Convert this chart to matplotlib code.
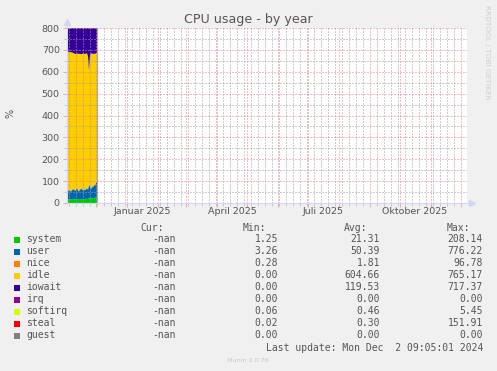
import numpy as np
import matplotlib
matplotlib.use("Agg")
import matplotlib.pyplot as plt
import matplotlib.dates as mdates
import matplotlib.transforms as mtransforms
from matplotlib.patches import Rectangle

# ---------------- data ----------------
dates = np.arange(np.datetime64("2024-11-02"), np.datetime64("2024-12-03"), np.timedelta64(1, "D"))

system = [17, 18, 16, 17, 18, 17, 19, 18, 17, 16, 18, 17, 19, 18, 17, 18,
          19, 17, 18, 20, 18, 19, 21, 22, 20, 21, 22, 23, 24, 25, 26]
user = [45, 37, 42, 43, 32, 48, 39, 50, 38, 44, 52, 41, 33, 48, 43, 54,
        36, 48, 40, 42, 52, 41, 64, 53, 42, 59, 48, 65, 54, 67, 70]
nice = [2] * 31
idle = [627, 633, 632, 627, 638, 621, 627, 614, 625, 619, 610, 623, 627, 614, 618, 607,
        626, 615, 621, 619, 612, 610, 518, 599, 619, 602, 609, 593, 602, 590, 588]
iowait = [108, 109, 107, 110, 109, 111, 112, 115, 117, 118, 117, 116, 118, 117, 119, 118,
          116, 117, 118, 116, 115, 127, 194, 123, 116, 115, 118, 116, 117, 115, 113]
irq = [0] * 31
softirq = [0.5] * 31
steal = [0.3] * 31
guest = [0] * 31

series_names = ["system", "user", "nice", "idle", "iowait", "irq", "softirq", "steal", "guest"]
series_colors = ["#00CC00", "#0066B3", "#FF8000", "#FFCC00", "#330099",
                 "#990099", "#CCFF00", "#FF0000", "#808080"]
cur_vals = ["-nan"] * 9
min_vals = ["1.25", "3.26", "0.28", "0.00", "0.00", "0.00", "0.06", "0.02", "0.00"]
avg_vals = ["21.31", "50.39", "1.81", "604.66", "119.53", "0.00", "0.46", "0.30", "0.00"]
max_vals = ["208.14", "776.22", "96.78", "765.17", "717.37", "0.00", "5.45", "151.91", "0.00"]

month_labels = ["Januar 2025", "April 2025", "Juli 2025", "Oktober 2025"]
month_label_dates = ["2025-01-16", "2025-04-16", "2025-07-16", "2025-10-16"]
x_start, x_end = "2024-11-02", "2025-12-07"
y_ticks = [0, 100, 200, 300, 400, 500, 600, 700, 800]

title = "CPU usage - by year"
last_update = "Last update: Mon Dec  2 09:05:01 2024"
munin_ver = "Munin 2.0.76"
side_text = "RRDTOOL / TOBI OETIKER"

# ---------------- figure ----------------
W, H = 497, 371
fig = plt.figure(figsize=(W / 100, H / 100), dpi=100, facecolor="#F0F0F0")

def fx(px):
    return px / W

def fy(py):
    return 1 - py / H

L, R, T, B = 67, 467, 28, 203
ax = fig.add_axes([fx(L), fy(B), (R - L) / W, (B - T) / H])
ax.set_facecolor("white")

FONT_COL = "#555555"
MGRID = (0.93, 0.5, 0.5, 0.65)
GRID = (0.62, 0.62, 0.62, 0.5)
AXIS_COL = "#CFD6F8"
DOT = (0, (1, 2))

ax.stackplot(dates, system, user, nice, idle, iowait, irq, softirq, steal, guest,
             colors=series_colors, linewidth=0, zorder=1)
ax.axvline(dates[-1], color="#b0b0b0", lw=0.8, zorder=1.5)

ax.set_xlim(np.datetime64(x_start), np.datetime64(x_end))
ax.set_ylim(0, 800)

ax.xaxis.set_major_locator(mdates.MonthLocator())
ax.xaxis.set_minor_locator(mdates.WeekdayLocator(byweekday=mdates.MO))
ax.set_yticks(y_ticks)
ax.set_yticks(np.arange(50, 800, 100), minor=True)
ax.set_yticklabels([str(v) for v in y_ticks])
ax.tick_params(axis="x", which="both", labelbottom=False)
ax.tick_params(axis="both", which="major", length=3, width=0.7, color=MGRID, direction="out")
ax.tick_params(axis="both", which="minor", length=2, width=0.7, color=GRID, direction="out")
ax.tick_params(axis="y", which="major", labelsize=6.8, labelcolor=FONT_COL, pad=2.2)

ax.set_axisbelow(False)
ax.grid(True, which="minor", color=GRID, lw=0.72, linestyle=DOT, zorder=2)
ax.grid(True, which="major", color=MGRID, lw=0.72, linestyle=DOT, zorder=2)

for s in ax.spines.values():
    s.set_visible(False)

# axis lines with arrows
ax.plot([0, 1.01], [0, 0], transform=ax.transAxes, color=AXIS_COL, lw=0.8, clip_on=False, zorder=3)
ax.plot([0, 0], [0, 1.02], transform=ax.transAxes, color=AXIS_COL, lw=0.8, clip_on=False, zorder=3)
ax.plot([1.012], [0], marker=">", ms=4, color=AXIS_COL, transform=ax.transAxes, clip_on=False, zorder=3)
ax.plot([0], [1.035], marker="^", ms=4, color=AXIS_COL, transform=ax.transAxes, clip_on=False, zorder=3)

trans = mtransforms.blended_transform_factory(ax.transData, ax.transAxes)
for lab, d in zip(month_labels, month_label_dates):
    ax.text(np.datetime64(d), -9 / 175, lab, transform=trans, ha="center", va="center",
            fontsize=6.8, color=FONT_COL)

fig.text(fx(248), fy(19), title, ha="center", va="center", fontsize=9.1, color=FONT_COL)
fig.text(fx(11), fy(113), "%", ha="center", va="center", rotation=90, fontsize=7, color=FONT_COL)
fig.text(fx(487), fy(5), side_text, ha="center", va="top", rotation=270,
         fontsize=5.3, color="#cfcfcf")

# legend
mono = "DejaVu Sans Mono"
fs = 7
hdr_y = 227.7
for lab, xl in zip(["Cur:", "Min:", "Avg:", "Max:"], [140.5, 243, 343.5, 447]):
    fig.text(fx(xl), fy(hdr_y), lab, ha="left", va="center", family=mono, fontsize=fs, color=FONT_COL)

for i, name in enumerate(series_names):
    yy = 239.5 + 12 * i
    fig.add_artist(Rectangle((fx(14), fy(yy + 3)), 6 / W, 6 / H, transform=fig.transFigure,
                             facecolor=series_colors[i], edgecolor="none"))
    fig.text(fx(26.5), fy(yy), name, ha="left", va="center", family=mono, fontsize=fs, color=FONT_COL)
    for col, xr in zip([cur_vals, min_vals, avg_vals, max_vals], [176, 278, 380, 483]):
        fig.text(fx(xr), fy(yy), col[i], ha="right", va="center", family=mono, fontsize=fs, color=FONT_COL)

fig.text(fx(483), fy(347.7), last_update, ha="right", va="center", family=mono, fontsize=fs, color=FONT_COL)
fig.text(fx(248), fy(360.5), munin_ver, ha="center", va="center", fontsize=4.6, color="#c8c8c8")

fig.savefig("out.png", dpi=100, facecolor=fig.get_facecolor())
